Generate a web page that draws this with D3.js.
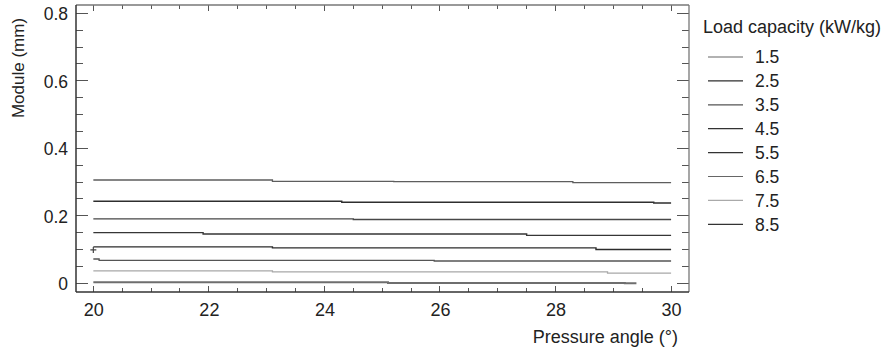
<!DOCTYPE html>
<html>
<head>
<meta charset="utf-8">
<script src="https://cdn.jsdelivr.net/npm/d3@7"></script>
<style>
  html, body { margin: 0; padding: 0; background: #fff; }
  svg { display: block; }
  text { font-family: "Liberation Sans", Arial, sans-serif; fill: #222; }
</style>
</head>
<body>
<svg id="chart" width="886" height="354"></svg>
<script>
// ---- data ----
const loadCapacities = ["1.5", "2.5", "3.5", "4.5", "5.5", "6.5", "7.5", "8.5"];
// step change positions (pressure angle, deg) for each series
const angles15 = [20, 23.1, 25.2, 28.3, 30];
const module15 = [0.306, 0.302, 0.301, 0.298, 0.298];
const angles25 = [20, 24.3, 29.7, 30];
const module25 = [0.243, 0.240, 0.238, 0.238];
const angles35 = [20, 24.5, 30];
const module35 = [0.191, 0.189, 0.189];
const angles45 = [20, 21.9, 27.5, 30];
const module45 = [0.150, 0.146, 0.142, 0.142];
const angles55 = [20, 23.1, 28.7, 30];
const module55 = [0.108, 0.105, 0.100, 0.100];
const angles65 = [20, 20.1, 25.9, 30];
const module65 = [0.072, 0.068, 0.066, 0.066];
const angles75 = [20, 23.1, 28.9, 30];
const module75 = [0.037, 0.034, 0.030, 0.030];
const angles85 = [20, 25.1, 29.2, 29.4];
const module85 = [0.003, 0.001, 0.000, 0.000];
const markerPoint = [20, 0.099];
const xTickLabels = [20, 22, 24, 26, 28, 30];
const yTickLabels = [0, 0.2, 0.4, 0.6, 0.8];

const seriesAngles = [angles15, angles25, angles35, angles45, angles55, angles65, angles75, angles85];
const seriesModules = [module15, module25, module35, module45, module55, module65, module75, module85];
const colors = ["#5e5e5e", "#2e2e2e", "#474747", "#363636", "#2c2c2c", "#555555", "#a8a8a8", "#6e6e6e"];
const legendColors = ["#666", "#2e2e2e", "#555", "#333", "#333", "#666", "#aaa", "#333"];
const widths = [1.3, 1.4, 1.4, 1.4, 1.4, 1.3, 1.3, 2];

// ---- layout ----
const svg = d3.select("#chart");
const L = 76, R = 689, T = 5, B = 292;
const x = d3.scaleLinear().domain([19.7, 30.31]).range([L, R]);
const y = d3.scaleLinear().domain([-0.0258, 0.8246]).range([B, T]);

const frameColor = "#555";

const xMinor = d3.range(20, 30.001, 0.5);
const yMinor = d3.range(0, 0.8001, 0.05);

function isMajorX(v) { return Math.abs(v / 2 - Math.round(v / 2)) < 1e-6; }
function isMajorY(v) { return Math.abs(v / 0.2 - Math.round(v / 0.2)) < 1e-6; }

const axes = svg.append("g");
const xAxis = d3.axisBottom(x).tickValues(xTickLabels).tickSize(0).tickPadding(11).tickFormat(d3.format("d"));
const gx = axes.append("g").attr("transform", `translate(0,${B})`).call(xAxis);
gx.select(".domain").remove();
gx.selectAll("text").attr("font-size", 18).attr("font-family", "Liberation Sans, Arial, sans-serif").attr("fill", "#222");

const yAxis = d3.axisLeft(y).tickValues(yTickLabels).tickSize(0).tickPadding(8)
  .tickFormat(d => d === 0 ? "0" : d3.format(".1f")(d));
const gy = axes.append("g").attr("transform", `translate(${L},0)`).call(yAxis);
gy.select(".domain").remove();
gy.selectAll("text").attr("font-size", 17.5).attr("font-family", "Liberation Sans, Arial, sans-serif").attr("fill", "#222").attr("dy", "0.36em");

const ticks = axes.append("g").attr("stroke", frameColor).attr("stroke-width", 1).attr("shape-rendering", "crispEdges");
xMinor.forEach(v => {
  const len = isMajorX(v) ? 6 : 4;
  ticks.append("line").attr("x1", x(v)).attr("x2", x(v)).attr("y1", B).attr("y2", B - len);
  ticks.append("line").attr("x1", x(v)).attr("x2", x(v)).attr("y1", T).attr("y2", T + len);
});
yMinor.forEach(v => {
  const len = isMajorY(v) ? 12 : 7;
  ticks.append("line").attr("x1", L).attr("x2", L + len).attr("y1", y(v)).attr("y2", y(v));
  ticks.append("line").attr("x1", R).attr("x2", R - len).attr("y1", y(v)).attr("y2", y(v));
});

axes.append("line").attr("x1", L).attr("x2", R).attr("y1", T).attr("y2", T).attr("stroke", "#777").attr("stroke-width", 1.3);
axes.append("line").attr("x1", R).attr("x2", R).attr("y1", T).attr("y2", B).attr("stroke", "#777").attr("stroke-width", 1.3);
axes.append("line").attr("x1", L).attr("x2", L).attr("y1", T).attr("y2", B).attr("stroke", "#333").attr("stroke-width", 1.5);
axes.append("line").attr("x1", L).attr("x2", R).attr("y1", B).attr("y2", B).attr("stroke", "#333").attr("stroke-width", 1.5);

const line = d3.line().x(d => x(d[0])).y(d => y(d[1])).curve(d3.curveStepAfter);
const seriesG = svg.append("g").attr("fill", "none");
loadCapacities.forEach((name, i) => {
  const pts = seriesAngles[i].map((a, j) => [a, seriesModules[i][j]]);
  seriesG.append("path")
    .attr("d", line(pts))
    .attr("stroke", colors[i])
    .attr("stroke-width", widths[i]);
});

svg.append("path")
  .attr("transform", `translate(${x(markerPoint[0])},${y(markerPoint[1])})`)
  .attr("d", "M-3,0H3M0,-3V3")
  .attr("stroke", "#444").attr("stroke-width", 1.2).attr("fill", "none");

svg.append("text").attr("x", 678).attr("y", 343).attr("text-anchor", "end")
  .attr("font-size", 18).text("Pressure angle (°)");
svg.append("text").attr("transform", "translate(24,68) rotate(-90)").attr("text-anchor", "middle")
  .attr("font-size", 17).text("Module (mm)");

const lg = svg.append("g");
lg.append("text").attr("x", 703).attr("y", 33).attr("font-size", 18).text("Load capacity (kW/kg)");
loadCapacities.forEach((name, i) => {
  const cy = 57 + i * 23.9;
  lg.append("line").attr("x1", 708).attr("x2", 743).attr("y1", cy).attr("y2", cy)
    .attr("stroke", legendColors[i]).attr("stroke-width", 1.2);
  lg.append("text").attr("x", 755).attr("y", cy).attr("dy", "0.36em").attr("font-size", 17.5).text(name);
});
</script>
</body>
</html>
